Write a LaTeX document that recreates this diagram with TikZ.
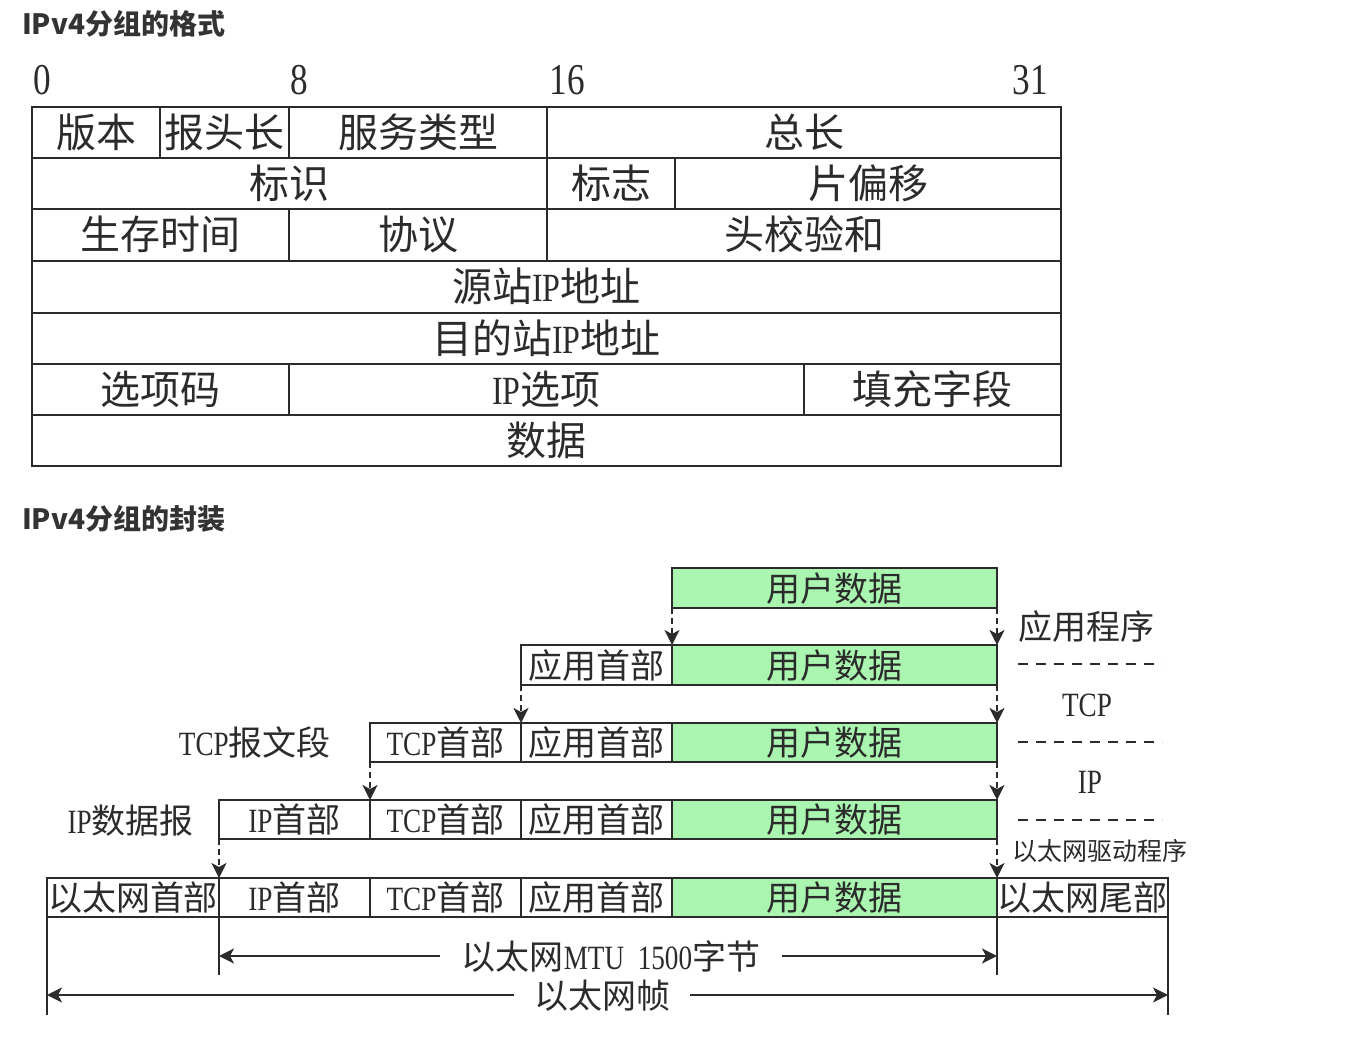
\documentclass[tikz,border=0pt]{standalone}
\usepackage{fontspec}
\setmainfont{Noto Sans CJK SC}
\newfontfamily\cjkf{Noto Sans CJK SC}
\newfontfamily\lat[FakeStretch=0.8]{Liberation Serif}
\usetikzlibrary{arrows.meta}
\definecolor{ink}{HTML}{2B2B2B}
\definecolor{ttl}{HTML}{333333}
\definecolor{ugreen}{HTML}{AAF6B0}
\newcommand\tabsz{\fontsize{40}{44}\selectfont}
\newcommand\boxsz{\fontsize{34}{38}\selectfont}
\tikzset{
  cell/.style={draw=ink, line width=2pt, rectangle, inner sep=0pt, outer sep=0pt,
    font=\cjkf\tabsz, text=ink, text height=35pt, text depth=5pt},
  pbox/.style={draw=ink, line width=1.6pt, rectangle, inner sep=0pt, outer sep=0pt,
    font=\cjkf\boxsz, text=ink, text height=30pt, text depth=4pt},
  gbox/.style={pbox, fill=ugreen},
  lbl/.style={inner sep=0pt, font=\cjkf\boxsz, text=ink, text height=30pt, text depth=4pt},
  bitnum/.style={inner sep=0pt, anchor=base, font=\lat\fontsize{44}{46}\selectfont, text=ink},
  title/.style={inner sep=0pt, anchor=base west, font=\cjkf\bfseries\fontsize{28}{31}\selectfont, text=ttl},
  tipx/.tip={Stealth[length=15pt,width=15pt,inset=4pt]},
  darrow/.style={draw=ink, line width=1.6pt, dash pattern=on 6pt off 4pt, -tipx},
  dimarrow/.style={draw=ink, line width=1.8pt, -tipx},
  extline/.style={draw=ink, line width=1.6pt},
  sepline/.style={draw=ink, line width=1.6pt, dash pattern=on 10pt off 8pt},
}
\begin{document}
\begin{tikzpicture}[x=1pt,y=-1pt]
\useasboundingbox (0,0) rectangle (1366,1040);
\fill[white] (0,0) rectangle (1366,1040);

% ---------- Titles ----------
\node[title] (t1) at (22,35) {IPv4分组的格式};
\node[title] (t2) at (22,529) {IPv4分组的封装};

% ---------- Bit numbers ----------
\node[bitnum] (b0) at (42,95) {0};
\node[bitnum] (b8) at (299,95) {8};
\node[bitnum] (b16) at (567,95) {16};
\node[bitnum] (b31) at (1030,95) {31};

% ---------- IPv4 header table ----------
\node[cell, minimum width=128pt, minimum height=51pt] (ver) at (96,132.5) {版本};
\node[cell, minimum width=129pt, minimum height=51pt] (hl) at (224.5,132.5) {报头长};
\node[cell, minimum width=258pt, minimum height=51pt] (tos) at (418,132.5) {服务类型};
\node[cell, minimum width=514pt, minimum height=51pt] (len) at (804,132.5) {总长};

\node[cell, minimum width=515pt, minimum height=51pt] (id) at (289.5,183.5) {标识};
\node[cell, minimum width=128pt, minimum height=51pt] (flg) at (611,183.5) {标志};
\node[cell, minimum width=386pt, minimum height=51pt] (off) at (868,183.5) {片偏移};

\node[cell, minimum width=257pt, minimum height=52pt] (ttl) at (160.5,235) {生存时间};
\node[cell, minimum width=258pt, minimum height=52pt] (pro) at (418,235) {协议};
\node[cell, minimum width=514pt, minimum height=52pt] (chk) at (804,235) {头校验和};

\node[cell, minimum width=1029pt, minimum height=52pt] (src) at (546.5,287) {源站{\lat IP}地址};
\node[cell, minimum width=1029pt, minimum height=51pt] (dst) at (546.5,338.5) {目的站{\lat IP}地址};

\node[cell, minimum width=257pt, minimum height=51pt] (opc) at (160.5,389.5) {选项码};
\node[cell, minimum width=515pt, minimum height=51pt] (opt) at (546.5,389.5) {{\lat IP}选项};
\node[cell, minimum width=257pt, minimum height=51pt] (pad) at (932.5,389.5) {填充字段};

\node[cell, minimum width=1029pt, minimum height=51pt] (dat) at (546.5,440.5) {数据};

% ---------- Encapsulation ----------
% row 1
\node[gbox, minimum width=325pt, minimum height=40pt] (u1) at (834.5,588) {用户数据};
% row 2
\node[pbox, minimum width=151pt, minimum height=40pt] (a2) at (596.5,665) {应用首部};
\node[gbox, minimum width=325pt, minimum height=40pt] (u2) at (834.5,665) {用户数据};
% row 3
\node[pbox, minimum width=151pt, minimum height=39pt] (t3) at (445.5,742.5) {{\lat TCP}首部};
\node[pbox, minimum width=151pt, minimum height=39pt] (a3) at (596.5,742.5) {应用首部};
\node[gbox, minimum width=325pt, minimum height=39pt] (u3) at (834.5,742.5) {用户数据};
% row 4
\node[pbox, minimum width=151pt, minimum height=39pt] (i4) at (294.5,819.5) {{\lat IP}首部};
\node[pbox, minimum width=151pt, minimum height=39pt] (t4) at (445.5,819.5) {{\lat TCP}首部};
\node[pbox, minimum width=151pt, minimum height=39pt] (a4) at (596.5,819.5) {应用首部};
\node[gbox, minimum width=325pt, minimum height=39pt] (u4) at (834.5,819.5) {用户数据};
% row 5
\node[pbox, minimum width=172pt, minimum height=39pt] (e5) at (133,897.5) {以太网首部};
\node[pbox, minimum width=151pt, minimum height=39pt] (i5) at (294.5,897.5) {{\lat IP}首部};
\node[pbox, minimum width=151pt, minimum height=39pt] (t5) at (445.5,897.5) {{\lat TCP}首部};
\node[pbox, minimum width=151pt, minimum height=39pt] (a5) at (596.5,897.5) {应用首部};
\node[gbox, minimum width=325pt, minimum height=39pt] (u5) at (834.5,897.5) {用户数据};
\node[pbox, minimum width=171pt, minimum height=39pt] (tr5) at (1082.5,897.5) {以太网尾部};

% row labels
\node[lbl, anchor=east] (lseg) at (331,742) {{\lat TCP}报文段};
\node[lbl, anchor=east] (ldgm) at (194,820) {{\lat IP}数据报};

% dashed arrows
\draw[darrow] (u1.south west) -- (a2.north east);
\draw[darrow] (u1.south east) -- (u2.north east);
\draw[darrow] (a2.south west) -- (a3.north west);
\draw[darrow] (u2.south east) -- (u3.north east);
\draw[darrow] (t3.south west) -- (t4.north west);
\draw[darrow] (u3.south east) -- (u4.north east);
\draw[darrow] (i4.south west) -- (i5.north west);
\draw[darrow] (u4.south east) -- (u5.north east);

% layer labels on the right
\node[lbl] (lapp) at (1086,626) {应用程序};
\node[lbl] (ltcp) at (1087,703) {\lat TCP};
\node[lbl] (lip) at (1090,780) {\lat IP};
\node[inner sep=0pt, font=\cjkf\fontsize{25}{28}\selectfont, text=ink] (leth) at (1100,851) {以太网驱动程序};
\coordinate (s1a) at (1018,664); \coordinate (s1b) at (1162,664);
\coordinate (s2a) at (1018,742); \coordinate (s2b) at (1162,742);
\coordinate (s3a) at (1018,820); \coordinate (s3b) at (1162,820);
\draw[sepline] (s1a) -- (s1b);
\draw[sepline] (s2a) -- (s2b);
\draw[sepline] (s3a) -- (s3b);

% extension lines
\coordinate (x47) at (47,1015);
\coordinate (x219) at (219,975);
\coordinate (x997) at (997,975);
\coordinate (x1168) at (1168,1015);
\draw[extline] (e5.south west) -- (x47);
\draw[extline] (i5.south west) -- (x219);
\draw[extline] (u5.south east) -- (x997);
\draw[extline] (tr5.south east) -- (x1168);

% dimension arrows
\node[lbl, inner xsep=22pt] (mtu) at (611,956) {以太网{\lat MTU\ \ 1500}字节};
\coordinate (mtuL) at (219,956);
\coordinate (mtuR) at (997,956);
\draw[dimarrow] (mtu.west) -- (mtuL);
\draw[dimarrow] (mtu.east) -- (mtuR);

\node[lbl, inner xsep=20pt] (frm) at (602,995) {以太网帧};
\coordinate (frmL) at (47,995);
\coordinate (frmR) at (1168,995);
\draw[dimarrow] (frm.west) -- (frmL);
\draw[dimarrow] (frm.east) -- (frmR);
\end{tikzpicture}
\end{document}
